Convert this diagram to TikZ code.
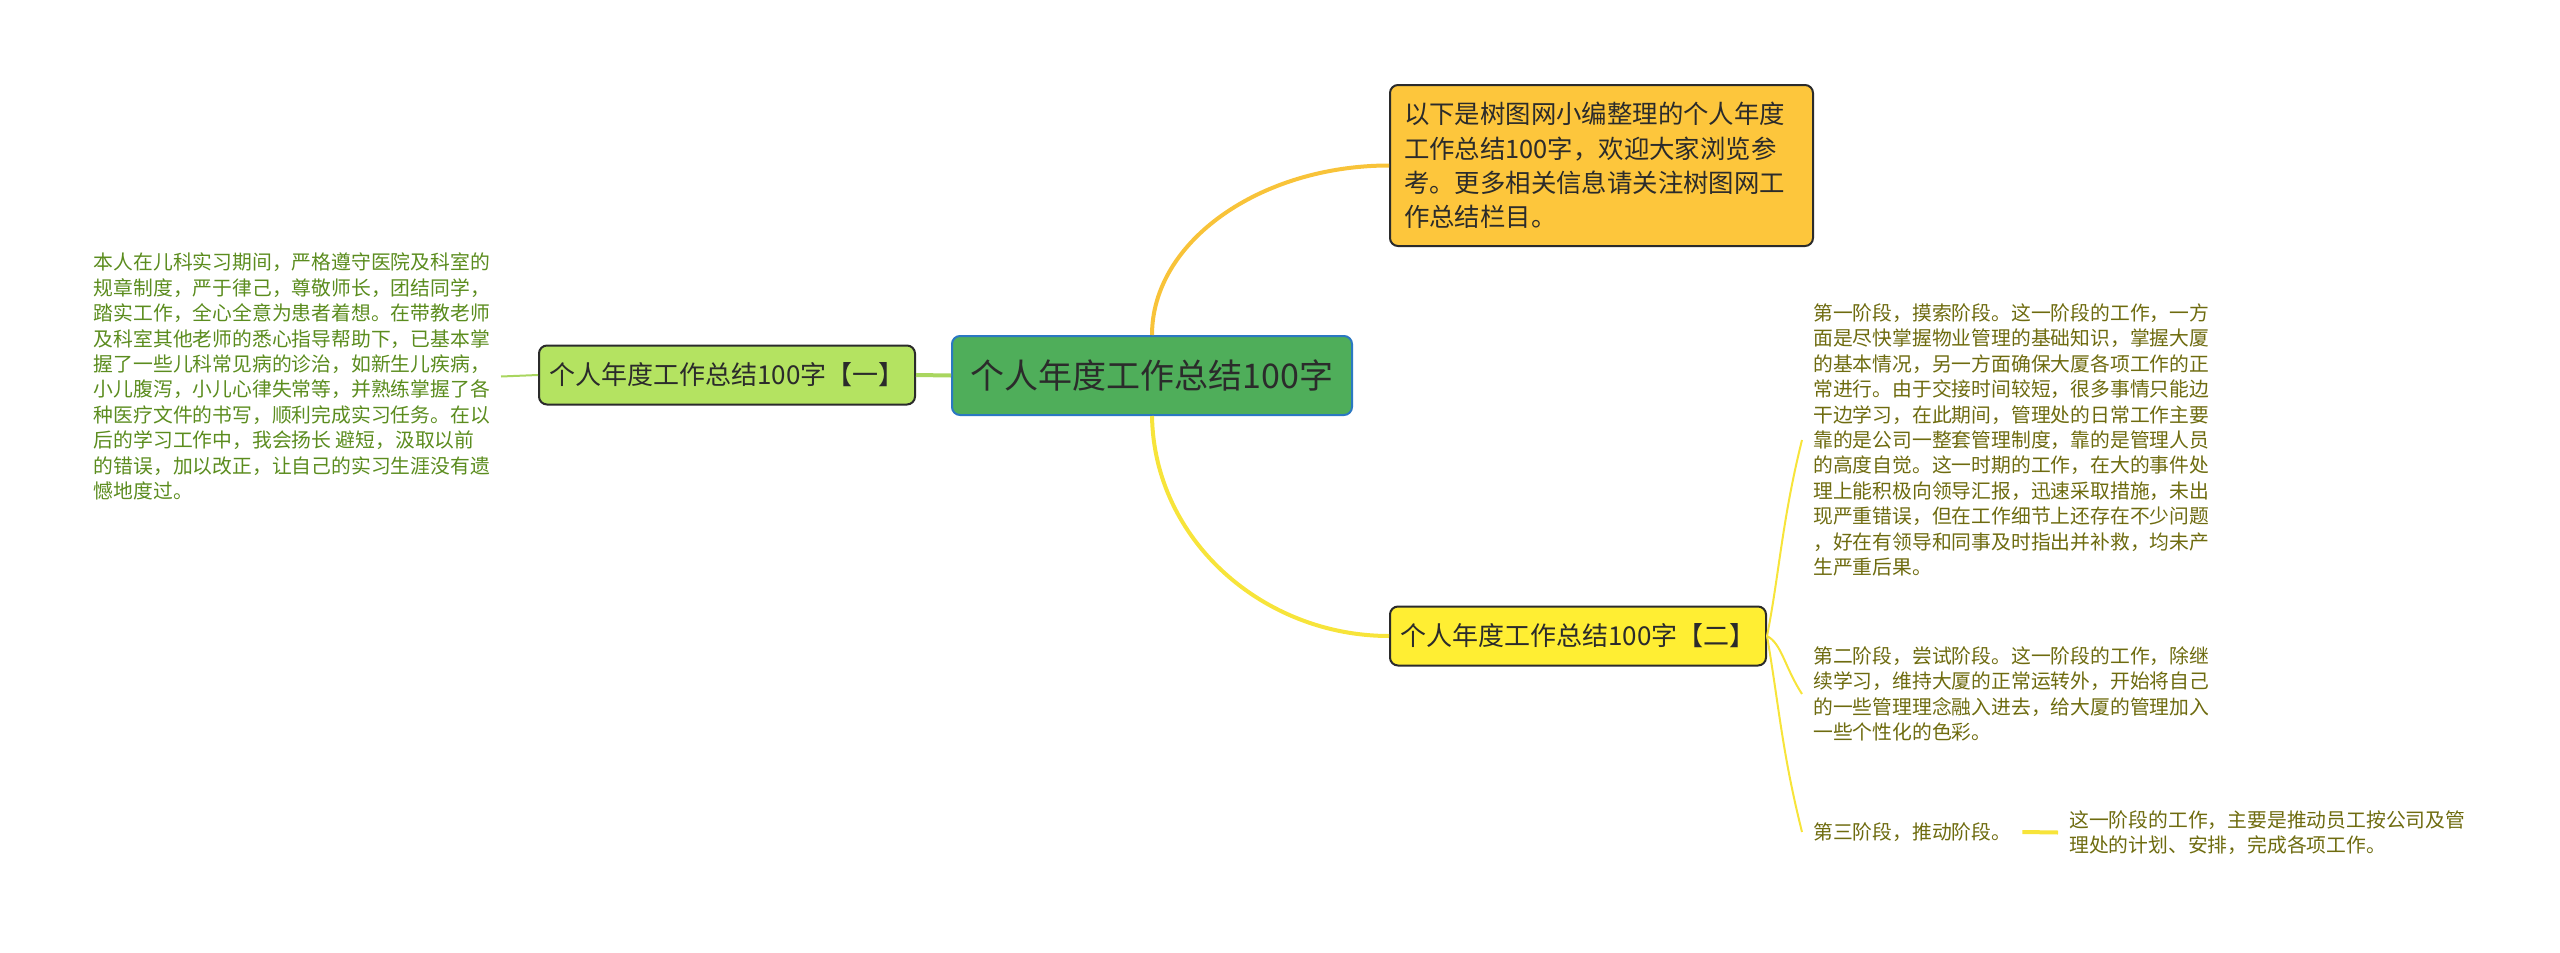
\documentclass[tikz,border=0pt]{standalone}
\usepackage{fontspec}
\setmainfont{Noto Sans CJK SC}
\usetikzlibrary{calc}
\definecolor{rootgreen}{HTML}{4FAE5A}
\definecolor{rootblue}{HTML}{2B78C2}
\definecolor{leafgreen}{HTML}{B4E361}
\definecolor{introorange}{HTML}{FDC63C}
\definecolor{stageyellow}{HTML}{FFEE33}
\definecolor{linegreen}{HTML}{A9D65F}
\definecolor{lineorange}{HTML}{F8C339}
\definecolor{lineyellow}{HTML}{F7E43A}
\definecolor{textgreen}{HTML}{5B8C1E}
\definecolor{textolive}{HTML}{6E6B0F}
\definecolor{textdark}{HTML}{2B2B2B}

\begin{document}
\begin{tikzpicture}[x=1pt, y=-1pt,
    box/.style={draw=textdark, line width=2pt, rounded corners=8pt, inner sep=0pt, text=textdark},
    topicbox/.style={box, minimum width=376pt, minimum height=59pt, font=\fontsize{26}{30}\selectfont},
    note/.style={inner xsep=11pt, inner ysep=0pt, align=left, font=\fontsize{19.8}{25.4}\selectfont},
    mainlink/.style={line width=4pt},
    sublink/.style={line width=2pt}]
    \useasboundingbox (0, 0) rectangle (2560, 953);

    % root
    \node[box, draw=rootblue, fill=rootgreen, minimum width=400pt, minimum height=79pt,
          font=\fontsize{34}{40}\selectfont] (root) at (1152, 375.5) {个人年度工作总结100字};

    % intro
    \node[box, fill=introorange, anchor=west, text width=395pt, inner xsep=14pt, align=left,
          minimum height=161pt, font=\fontsize{25.4}{34.3}\selectfont] (intro) at (1389, 165.5)
        {以下是树图网小编整理的个人年度\\工作总结100字，欢迎大家浏览参\\考。更多相关信息请关注树图网工\\作总结栏目。};

    % part one
    \node[topicbox, fill=leafgreen] (one) at (727, 375) {个人年度工作总结100字【一】};
    \node[note, text=textgreen, anchor=east] (onetext) at (501, 376.5)
        {本人在儿科实习期间，严格遵守医院及科室的\\规章制度，严于律己，尊敬师长，团结同学，\\踏实工作，全心全意为患者着想。在带教老师\\及科室其他老师的悉心指导帮助下，已基本掌\\握了一些儿科常见病的诊治，如新生儿疾病，\\小儿腹泻，小儿心律失常等，并熟练掌握了各\\种医疗文件的书写，顺利完成实习任务。在以\\后的学习工作中，我会扬长 避短，汲取以前\\的错误，加以改正，让自己的实习生涯没有遗\\憾地度过。};

    % part two
    \node[topicbox, fill=stageyellow] (two) at (1578, 636) {个人年度工作总结100字【二】};
    \node[note, text=textolive, anchor=west] (stage1) at (1802, 440)
        {第一阶段，摸索阶段。这一阶段的工作，一方\\面是尽快掌握物业管理的基础知识，掌握大厦\\的基本情况，另一方面确保大厦各项工作的正\\常进行。由于交接时间较短，很多事情只能边\\干边学习，在此期间，管理处的日常工作主要\\靠的是公司一整套管理制度，靠的是管理人员\\的高度自觉。这一时期的工作，在大的事件处\\理上能积极向领导汇报，迅速采取措施，未出\\现严重错误，但在工作细节上还存在不少问题\\，好在有领导和同事及时指出并补救，均未产\\生严重后果。};
    \node[note, text=textolive, anchor=west] (stage2) at (1802, 694)
        {第二阶段，尝试阶段。这一阶段的工作，除继\\续学习，维持大厦的正常运转外，开始将自己\\的一些管理理念融入进去，给大厦的管理加入\\一些个性化的色彩。};
    \node[note, text=textolive, anchor=west] (stage3) at (1802, 832) {第三阶段，推动阶段。};
    \node[note, text=textolive, anchor=west] (stage3text) at (2058, 832.5)
        {这一阶段的工作，主要是推动员工按公司及管\\理处的计划、安排，完成各项工作。};

    % links
    \draw[mainlink, draw=linegreen] (root.west) -- (one.east);
    \draw[sublink, draw=linegreen] (one.west) -- (onetext.east);
    \draw[mainlink, draw=lineorange] (root.north) .. controls +(0, -94) and +(-128, 0) .. (intro.west);
    \draw[mainlink, draw=lineyellow] (root.south) .. controls +(2, 125) and +(-125, 0) .. (two.west);
    \draw[sublink, draw=lineyellow] (two.east) .. controls +(12, -60) and +(-20, 80) .. (stage1.west);
    \draw[sublink, draw=lineyellow] (two.east) .. controls +(15, 8) and +(-18, -28) .. (stage2.west);
    \draw[sublink, draw=lineyellow] (two.east) .. controls +(12, 70) and +(-20, -80) .. (stage3.west);
    \draw[mainlink, draw=lineyellow] (stage3.east) -- (stage3text.west);
\end{tikzpicture}
\end{document}
